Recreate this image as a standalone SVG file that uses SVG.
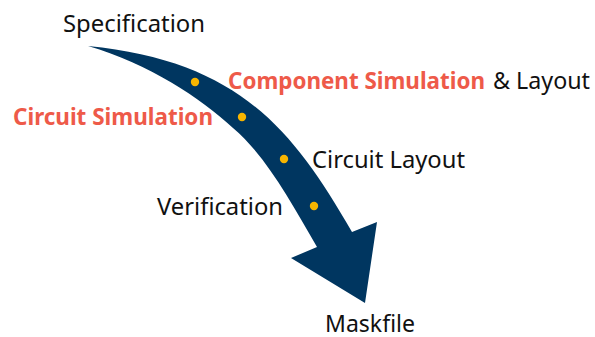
<svg xmlns="http://www.w3.org/2000/svg" width="595" height="337" viewBox="0 0 595 337">
<style>
.t{font-family:"Noto Sans","Open Sans","DejaVu Sans",sans-serif;font-size:23.5px;fill:#111}
.r{fill:#EE5A49;font-weight:bold;font-size:22.5px}
.dot{fill:#F7B500}
</style>
<rect width="595" height="337" fill="#fff"/>
<g id="connectors">
<path id="arrow" fill="#003660" d="M88,46 C238,61 292,128 352,232 L377,222 L365,303 L291,258 L317,247 C290,200 265,155 233,128 C200,98 150,64 88,46 Z"/>
<circle class="dot" cx="195" cy="82" r="4.2"/>
<circle class="dot" cx="242" cy="117" r="4.2"/>
<circle class="dot" cx="284" cy="159" r="4.2"/>
<circle class="dot" cx="314" cy="206" r="4.2"/>
</g>
<g id="spec"><text class="t" x="63" y="31.5" textLength="142" lengthAdjust="spacingAndGlyphs">Specification</text></g>
<g id="comp"><text class="t r" x="228" y="88.5" textLength="257" lengthAdjust="spacingAndGlyphs">Component Simulation</text><text class="t" x="493" y="88.5" textLength="97" lengthAdjust="spacingAndGlyphs">&amp; Layout</text></g>
<g id="circsim"><text class="t r" x="13" y="125" textLength="200" lengthAdjust="spacingAndGlyphs">Circuit Simulation</text></g>
<g id="layout"><text class="t" x="312" y="167.5" textLength="153" lengthAdjust="spacingAndGlyphs">Circuit Layout</text></g>
<g id="verif"><text class="t" x="157" y="214.5" textLength="126" lengthAdjust="spacingAndGlyphs">Verification</text></g>
<g id="mask"><text class="t" x="325" y="331.5" textLength="90" lengthAdjust="spacingAndGlyphs">Maskfile</text></g>
</svg>
